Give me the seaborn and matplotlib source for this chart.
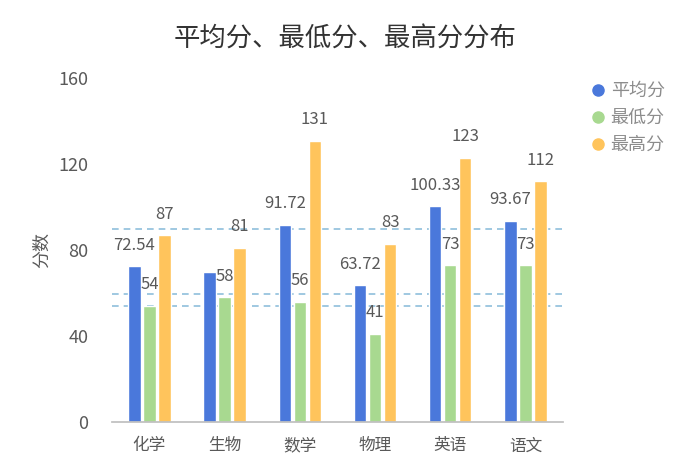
import matplotlib
matplotlib.use("Agg")
import matplotlib.pyplot as plt
from matplotlib.lines import Line2D
import seaborn as sns
import pandas as pd

subjects = ["化学", "生物", "数学", "物理", "英语", "语文"]
avg_scores = [72.54, 69.9, 91.72, 63.72, 100.33, 93.67]
min_scores = [54, 58, 56, 41, 73, 73]
max_scores = [87, 81, 131, 83, 123, 112]
avg_labels = ["72.54", "", "91.72", "63.72", "100.33", "93.67"]
series_names = ["平均分", "最低分", "最高分"]
ref_lines = [90, 59.5, 54]
y_ticks = [0, 40, 80, 120, 160]

colors = ["#4a78db", "#a8d990", "#ffc45c"]
text_color = "#595959"

sns.set_theme(style="white")
plt.rcParams["font.family"] = ["Noto Sans CJK SC", "DejaVu Sans"]

rows = []
for name, vals in zip(series_names, [avg_scores, min_scores, max_scores]):
    for s, v in zip(subjects, vals):
        rows.append({"科目": s, "系列": name, "分数": v})
df = pd.DataFrame(rows)

fig = plt.figure(figsize=(6.9, 4.71), dpi=100)
ax = fig.add_axes([0.162, 0.104, 0.654, 0.730])

sns.barplot(data=df, x="科目", y="分数", hue="系列", hue_order=series_names,
            palette=colors, width=0.6, gap=0.18, ax=ax, legend=False,
            errorbar=None, saturation=1)

for y in ref_lines:
    ax.axhline(y, color="#8fbfdc", linestyle=(0, (4, 3)), linewidth=1.2, zorder=0.5)

label_sets = [avg_labels, [str(v) for v in min_scores], [str(v) for v in max_scores]]
for cont, labs in zip(ax.containers, label_sets):
    ax.bar_label(cont, labels=labs, padding=9, fontsize=12, color=text_color)

ax.set_ylim(0, 160)
ax.set_yticks(y_ticks)
ax.set_xlim(-0.5, len(subjects) - 0.5)
ax.set_xlabel("")
ax.set_ylabel("分数", fontsize=13, color=text_color, labelpad=5)
ax.tick_params(axis="y", length=0, labelsize=13, colors=text_color, pad=17)
ax.tick_params(axis="x", length=0, labelsize=12, colors=text_color, pad=11)
for side in ["top", "right", "left"]:
    ax.spines[side].set_visible(False)
ax.spines["bottom"].set_color("#bfbfbf")

fig.suptitle("平均分、最低分、最高分分布", x=0.5, y=0.945, fontsize=19, color="#333333")

handles = [Line2D([0], [0], marker="o", linestyle="", markersize=8,
                  markerfacecolor=c, markeredgecolor=c) for c in colors]
fig.legend(handles, series_names, loc="upper left", bbox_to_anchor=(0.83, 0.86),
           frameon=False, fontsize=13, labelcolor="#8c8c8c", handletextpad=0.2,
           labelspacing=0.5, handlelength=1.0)

fig.savefig("out.png", dpi=100, facecolor="white")
